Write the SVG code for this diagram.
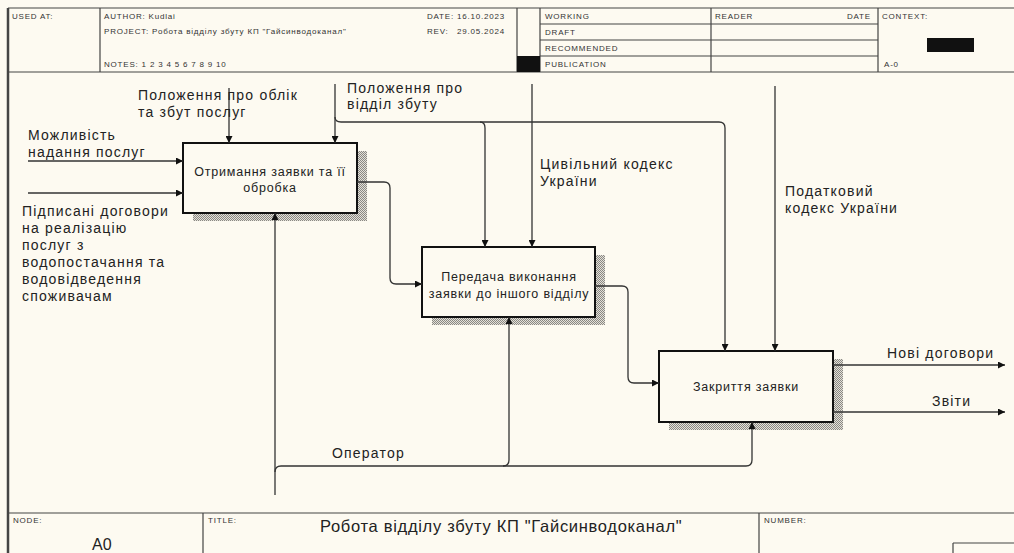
<svg xmlns="http://www.w3.org/2000/svg" width="1014" height="553" viewBox="0 0 1014 553">
<defs>
<pattern id="hatch" width="2" height="2" patternUnits="userSpaceOnUse">
<rect width="2" height="2" fill="#e4e1d8"/>
<rect width="1" height="1" fill="#8a8884"/>
<rect x="1" y="1" width="1" height="1" fill="#8a8884"/>
</pattern>
<marker id="arr" viewBox="0 0 10 10" refX="10" refY="5" markerWidth="9" markerHeight="7" markerUnits="userSpaceOnUse" orient="auto">
<path d="M0,0 L10,5 L0,10 z" fill="#111"/>
</marker>
</defs>
<style>
.frame{fill:none;stroke:#444;stroke-width:1.2}
.hd{font-family:"Liberation Sans",Arial,sans-serif;font-size:8px;letter-spacing:0.8px;fill:#333}
.lbl{font-family:"Liberation Sans",Arial,sans-serif;font-size:14px;letter-spacing:1.2px;fill:#222}
.bt{font-family:"Liberation Sans",Arial,sans-serif;font-size:12.5px;letter-spacing:0.8px;fill:#222;text-anchor:middle}
.box{fill:#fdfaf1;stroke:#111;stroke-width:2}
.sh{fill:url(#hatch)}
.ln{fill:none;stroke:#333;stroke-width:1.3}
</style>
<rect width="1014" height="553" fill="#fdfaf1"/>
<g id="frame">
<line x1="8" y1="8" x2="1014" y2="8" class="frame"/>
<line x1="8" y1="8" x2="8" y2="553" stroke="#444" stroke-width="2.5"/>
<line x1="8" y1="72" x2="1014" y2="72" class="frame"/>
<line x1="100" y1="8" x2="100" y2="72" class="frame"/>
<line x1="517" y1="8" x2="517" y2="72" class="frame"/>
<line x1="540" y1="8" x2="540" y2="72" class="frame"/>
<line x1="711" y1="8" x2="711" y2="72" class="frame"/>
<line x1="878" y1="8" x2="878" y2="72" class="frame"/>
<line x1="540" y1="24" x2="878" y2="24" class="frame"/>
<line x1="540" y1="40" x2="878" y2="40" class="frame"/>
<line x1="540" y1="56" x2="878" y2="56" class="frame"/>
<rect x="517" y="56" width="23" height="16" fill="#111"/>
<rect x="927" y="38" width="47" height="14" fill="#111"/>
<text x="12" y="19" class="hd">USED AT:</text>
<text x="104" y="19" class="hd">AUTHOR:  Kudlai</text>
<text x="104" y="34" class="hd">PROJECT:  Робота відділу збуту КП "Гайсинводоканал"</text>
<text x="104" y="67" class="hd">NOTES:  1  2  3  4  5  6  7  8  9  10</text>
<text x="427" y="19" class="hd" letter-spacing="0.3">DATE:</text>
<text x="457" y="19" class="hd" letter-spacing="0.4">16.10.2023</text>
<text x="427" y="34" class="hd" letter-spacing="0.3">REV:</text>
<text x="457" y="34" class="hd" letter-spacing="0.4">29.05.2024</text>
<text x="545" y="19" class="hd">WORKING</text>
<text x="545" y="35" class="hd">DRAFT</text>
<text x="545" y="51" class="hd">RECOMMENDED</text>
<text x="545" y="67" class="hd">PUBLICATION</text>
<text x="715" y="19" class="hd">READER</text>
<text x="847" y="19" class="hd">DATE</text>
<text x="882" y="19" class="hd">CONTEXT:</text>
<text x="884" y="67" class="hd">A-0</text>
<line x1="8" y1="513" x2="1014" y2="513" class="frame"/>
<line x1="203" y1="513" x2="203" y2="553" class="frame"/>
<line x1="759" y1="513" x2="759" y2="553" class="frame"/>
<line x1="953" y1="543" x2="1014" y2="543" class="frame"/>
<line x1="953" y1="543" x2="953" y2="553" class="frame"/>
<text x="13" y="523" class="hd" font-size="7">NODE:</text>
<text x="208" y="523" class="hd" font-size="7">TITLE:</text>
<text x="764" y="523" class="hd" font-size="7">NUMBER:</text>
<text x="92" y="550" font-family="Liberation Sans,Arial,sans-serif" font-size="16" fill="#222">A0</text>
<text x="320" y="532" font-family="Liberation Sans,Arial,sans-serif" font-size="16.5" letter-spacing="0.7" fill="#222">Робота відділу збуту КП "Гайсинводоканал"</text>
</g>
<g id="node-a1">
<rect x="193" y="151" width="174" height="70" class="sh"/>
<rect x="183" y="143" width="174" height="70" class="box"/>
<text x="270" y="176" class="bt">Отримання заявки та її</text>
<text x="270" y="192" class="bt">обробка</text>
</g>
<g id="node-a2">
<rect x="432" y="255" width="173" height="70" class="sh"/>
<rect x="422" y="247" width="173" height="70" class="box"/>
<text x="509" y="281" class="bt">Передача виконання</text>
<text x="509" y="298" class="bt">заявки до іншого відділу</text>
</g>
<g id="node-a3">
<rect x="669" y="359" width="174" height="71" class="sh"/>
<rect x="659" y="351" width="174" height="71" class="box"/>
<text x="746" y="391" class="bt">Закриття заявки</text>
</g>
<g id="connectors">
<line x1="28" y1="161" x2="183" y2="161" class="ln" marker-end="url(#arr)"/>
<line x1="28" y1="193" x2="183" y2="193" class="ln" marker-end="url(#arr)"/>
<line x1="229" y1="88" x2="229" y2="143" class="ln" marker-end="url(#arr)"/>
<line x1="335" y1="84" x2="335" y2="143" class="ln" marker-end="url(#arr)"/>
<path d="M335,117 Q335,122 341,122 L719,122 Q725,122 725,128 L725,351" class="ln" marker-end="url(#arr)"/>
<path d="M480,122 Q485,122 485,128 L485,247" class="ln" marker-end="url(#arr)"/>
<line x1="532" y1="84" x2="532" y2="247" class="ln" marker-end="url(#arr)"/>
<line x1="775" y1="86" x2="775" y2="351" class="ln" marker-end="url(#arr)"/>
<path d="M357,182 L384,182 Q390,182 390,188 L390,278 Q390,284 396,284 L422,284" class="ln" marker-end="url(#arr)"/>
<path d="M595,286 L622,286 Q628,286 628,292 L628,377 Q628,383 634,383 L659,383" class="ln" marker-end="url(#arr)"/>
<line x1="275" y1="495" x2="275" y2="213" class="ln" marker-end="url(#arr)"/>
<path d="M275,472 Q275,466 281,466 L746,466 Q752,466 752,460 L752,422" class="ln" marker-end="url(#arr)"/>
<path d="M503,466 Q509,466 509,460 L509,317" class="ln" marker-end="url(#arr)"/>
<line x1="833" y1="365" x2="1005" y2="365" class="ln" marker-end="url(#arr)"/>
<line x1="833" y1="412" x2="1005" y2="412" class="ln" marker-end="url(#arr)"/>
<text x="28" y="140" class="lbl">Можливість</text>
<text x="28" y="157" class="lbl">надання послуг</text>
<text x="22" y="216" class="lbl">Підписані договори</text>
<text x="22" y="233" class="lbl">на реалізацію</text>
<text x="22" y="250" class="lbl">послуг з</text>
<text x="22" y="267" class="lbl">водопостачання та</text>
<text x="22" y="284" class="lbl">водовідведення</text>
<text x="22" y="301" class="lbl">споживачам</text>
<text x="138" y="100" class="lbl">Положення про облік</text>
<text x="138" y="117" class="lbl">та збут послуг</text>
<text x="347" y="93" class="lbl">Положення про</text>
<text x="347" y="109" class="lbl">відділ збуту</text>
<text x="540" y="169" class="lbl">Цивільний кодекс</text>
<text x="540" y="186" class="lbl">України</text>
<text x="785" y="196" class="lbl">Податковий</text>
<text x="785" y="213" class="lbl">кодекс України</text>
<text x="332" y="458" class="lbl">Оператор</text>
<text x="887" y="358" class="lbl">Нові договори</text>
<text x="932" y="406" class="lbl">Звіти</text>
</g>
</svg>
